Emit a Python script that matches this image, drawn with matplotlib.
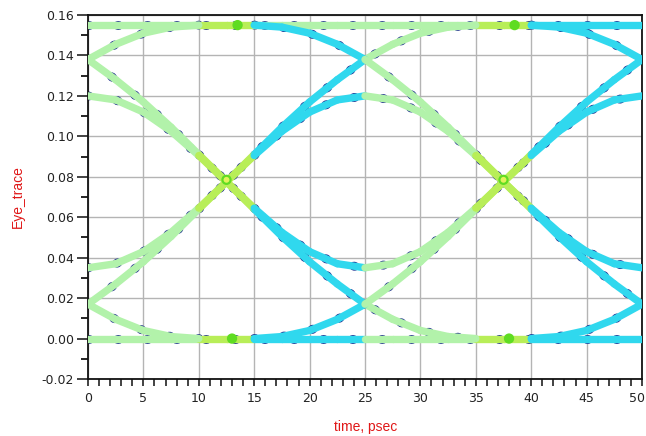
import numpy as np
import matplotlib
matplotlib.use("Agg")
import matplotlib.pyplot as plt
import matplotlib.transforms as mtransforms
from matplotlib.collections import LineCollection

nan = np.nan

# sample times (psec) and traces
time_ps = [0, 2.5, 5, 7.5, 10, 12.5, 15, 17.5, 20, 22.5, 25,
           27.5, 30, 32.5, 35, 37.5, 40, 42.5, 45, 47.5, 50]

level_high = [0.155] * 21
level_low = [0.0] * 21

fall_1 = [0.138, 0.128, 0.117, 0.1045, 0.091, 0.0775, 0.064, 0.0505, 0.038, 0.027, 0.017,
          0.0095, 0.004, 0.001, 0.0, nan, nan, nan, nan, nan, nan]
rise_1 = [0.017, 0.027, 0.038, 0.0505, 0.064, 0.0775, 0.091, 0.1045, 0.117, 0.128, 0.138,
          0.1455, 0.151, 0.154, 0.155, nan, nan, nan, nan, nan, nan]
rise_2 = [nan, nan, nan, nan, nan, nan, 0.0, 0.001, 0.004, 0.0095, 0.017,
          0.027, 0.038, 0.0505, 0.064, 0.0775, 0.091, 0.1045, 0.117, 0.128, 0.138]
fall_2 = [nan, nan, nan, nan, nan, nan, 0.155, 0.154, 0.151, 0.1455, 0.138,
          0.128, 0.117, 0.1045, 0.091, 0.0775, 0.064, 0.0505, 0.038, 0.027, 0.017]
rise_0 = [0.138, 0.1455, 0.151, 0.154, 0.155] + [nan] * 16
fall_0 = [0.017, 0.0095, 0.004, 0.001, 0.0] + [nan] * 16
rise_3 = [nan] * 16 + [0.0, 0.001, 0.004, 0.0095, 0.017]
fall_3 = [nan] * 16 + [0.155, 0.154, 0.151, 0.1455, 0.138]
isi_hi = [0.12, 0.118, 0.112, 0.1025, 0.0905, 0.0775, 0.0645, 0.0525, 0.043, 0.037, 0.035,
          0.037, 0.043, 0.0525, 0.0645, 0.0775, 0.0905, 0.1025, 0.112, 0.118, 0.12]
isi_lo = [0.035, 0.037, 0.043, 0.0525, 0.0645, 0.0775, 0.0905, 0.1025, 0.112, 0.118, 0.12,
          0.118, 0.112, 0.1025, 0.0905, 0.0775, 0.0645, 0.0525, 0.043, 0.037, 0.035]

# dense spots
hot_t = [12.5, 37.5, 13.5, 38.5, 13.0, 38.0]
hot_y = [0.0785, 0.0785, 0.155, 0.155, 0.0, 0.0]

PALE = "#b2f2aa"
CYAN = "#30d8ee"
HOT = "#b8ee58"
NAVY = "#1b2a8e"


def seg_color(tm, name):
    if abs(tm - 12.5) <= 1.3 or abs(tm - 37.5) <= 1.3:
        return HOT
    if name == "top":
        return PALE if tm < 37.5 else CYAN
    return PALE if (tm % 25) < 12.5 else CYAN


def draw_trace(ax, t, y, name=""):
    t = np.asarray(t, float)
    y = np.asarray(y, float)
    ok = ~np.isnan(y)
    ax.plot(t[ok], y[ok], color=NAVY, lw=6.4, ls=(0, (0.1, 3.2)),
            dash_capstyle="round", zorder=2)
    segs, cols = [], []
    for i in range(len(t) - 1):
        if np.isnan(y[i]) or np.isnan(y[i + 1]):
            continue
        segs.append([(t[i], y[i]), (t[i + 1], y[i + 1])])
        cols.append(seg_color((t[i] + t[i + 1]) / 2, name))
    ax.add_collection(LineCollection(segs, colors=cols, linewidths=5.3,
                                     capstyle="round", zorder=3))


fig = plt.figure(figsize=(6.46, 4.36), dpi=100)
ax = fig.add_axes([88 / 646, 57 / 436, 554 / 646, 364 / 436])

draw_trace(ax, time_ps, level_high, "top")
draw_trace(ax, time_ps, level_low)
for tr in [fall_1, rise_1, rise_2, fall_2, rise_0, fall_0, rise_3, fall_3, isi_hi, isi_lo]:
    draw_trace(ax, time_ps, tr)
ax.scatter(hot_t, hot_y, s=55, color="#5fdc22", edgecolors="none", zorder=4)
ax.scatter(hot_t[:2], hot_y[:2], s=18, color="#e2f25a", edgecolors="none", zorder=5)

ax.set_xlim(0, 50)
ax.set_ylim(-0.02, 0.16)
ax.set_xticks(np.arange(0, 51, 5))
ax.set_xticks(np.arange(0, 51, 1), minor=True)
ax.set_yticks(np.arange(-0.02, 0.161, 0.02))
ax.set_yticks(np.arange(-0.02, 0.161, 0.01), minor=True)
ax.set_yticklabels(["%.2f" % v for v in np.arange(-0.02, 0.161, 0.02)])
ax.grid(True, which="major", color="#b4b4b4", lw=1.0)
ax.set_axisbelow(True)

ax.tick_params(axis="x", which="both", direction="out", length=5, width=1.2,
               labelsize=9, pad=4, colors="#222222")
ax.tick_params(axis="y", which="major", direction="out", length=8, width=1.2,
               labelsize=9, pad=2, colors="#222222")
ax.tick_params(axis="y", which="minor", direction="out", length=5, width=1.2)
for sp in ax.spines.values():
    sp.set_linewidth(1.3)
    sp.set_color("#111111")

# keep the last x label inside the figure
last = ax.get_xticklabels()[-1]
last.set_transform(last.get_transform() +
                   mtransforms.ScaledTranslation(-5 / 100, 0, fig.dpi_scale_trans))

ax.set_xlabel("time, psec", color="#e01818", fontsize=10, family="Liberation Sans")
ax.xaxis.set_label_coords(0.502, -0.113)
ax.set_ylabel("Eye_trace", color="#e01818", fontsize=10, family="Liberation Sans")
ax.yaxis.set_label_coords(-0.114, 0.5)

fig.savefig("out.png", dpi=100)
